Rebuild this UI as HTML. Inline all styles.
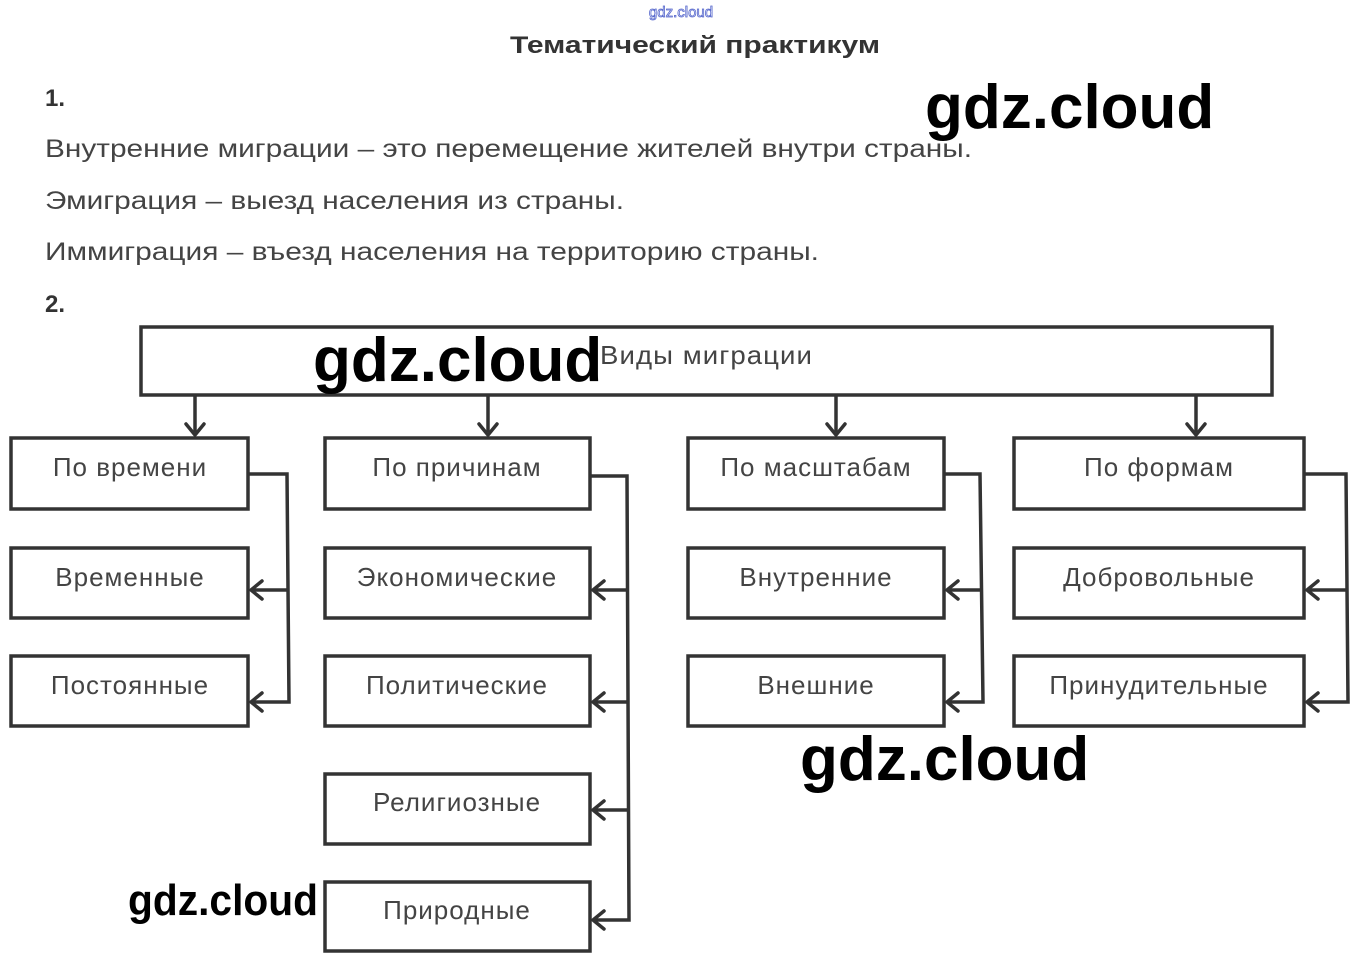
<!DOCTYPE html>
<html><head><meta charset="utf-8"><style>
html,body{margin:0;padding:0;background:#fff;width:1363px;height:971px;overflow:hidden}
svg{display:block}
.t{font-family:"Liberation Sans",sans-serif;fill:#444;font-size:25px}
.b{font-family:"Liberation Sans",sans-serif;fill:#444;font-size:26px;letter-spacing:1px}
.w{font-family:"Liberation Sans",sans-serif;fill:#000;font-weight:bold}
</style></head><body>
<svg width="1363" height="971" viewBox="0 0 1363 971">
<text x="681" y="17" text-anchor="middle" font-family="Liberation Sans,sans-serif" font-size="15" fill="#fff" stroke="#5566cc" stroke-width="0.8">gdz.cloud</text>
<text x="510" y="53" textLength="370" lengthAdjust="spacingAndGlyphs" font-family="Liberation Sans,sans-serif" font-size="24" font-weight="bold" fill="#333">Тематический практикум</text>
<text x="45" y="106" font-family="Liberation Sans,sans-serif" font-size="24" font-weight="bold" fill="#333">1.</text>
<text class="t" x="45" y="157" textLength="927" lengthAdjust="spacingAndGlyphs">Внутренние миграции – это перемещение жителей внутри страны.</text>
<text class="t" x="45" y="209" textLength="579" lengthAdjust="spacingAndGlyphs">Эмиграция – выезд населения из страны.</text>
<text class="t" x="45" y="260" textLength="774" lengthAdjust="spacingAndGlyphs">Иммиграция – въезд населения на территорию страны.</text>
<text x="45" y="312" font-family="Liberation Sans,sans-serif" font-size="24" font-weight="bold" fill="#333">2.</text>
<text class="w" x="925" y="128" font-size="62">gdz.cloud</text>

<g fill="none" stroke="#333" stroke-width="3.5">
<rect x="141" y="327" width="1131" height="68"/>
<line x1="195" y1="395" x2="195" y2="432"/><line x1="488" y1="395" x2="488" y2="432"/>
<line x1="836" y1="395" x2="836" y2="432"/><line x1="1196" y1="395" x2="1196" y2="432"/>
<rect x="11" y="438" width="237" height="71"/><rect x="11" y="548" width="237" height="70"/><rect x="11" y="656" width="237" height="70"/>
<rect x="325" y="438" width="265" height="71"/><rect x="325" y="548" width="265" height="70"/><rect x="325" y="656" width="265" height="70"/>
<rect x="325" y="774" width="265" height="70"/><rect x="325" y="882" width="265" height="69"/>
<rect x="688" y="438" width="256" height="71"/><rect x="688" y="548" width="256" height="70"/><rect x="688" y="656" width="256" height="70"/>
<rect x="1014" y="438" width="290" height="71"/><rect x="1014" y="548" width="290" height="70"/><rect x="1014" y="656" width="290" height="70"/>
<polyline points="248,474 287,474 289,702 252,702"/><line x1="287" y1="590" x2="252" y2="590"/>
<polyline points="590,476 627,476 629,920 594,920"/><line x1="627" y1="590" x2="594" y2="590"/><line x1="627" y1="702" x2="594" y2="702"/><line x1="627" y1="810" x2="594" y2="810"/>
<polyline points="944,474 980,474 983,702 948,702"/><line x1="980" y1="590" x2="948" y2="590"/>
<polyline points="1304,474 1346,474 1348,702 1308,702"/><line x1="1346" y1="590" x2="1308" y2="590"/>
<g stroke-linecap="round">
<polyline points="186,424 195,435 204,424"/><polyline points="479,424 488,435 497,424"/><polyline points="827,424 836,435 845,424"/><polyline points="1187,424 1196,435 1205,424"/>
<polyline points="262,581 251,590 262,599"/><polyline points="262,693 251,702 262,711"/>
<polyline points="604,581 593,590 604,599"/><polyline points="604,693 593,702 604,711"/><polyline points="604,801 593,810 604,819"/><polyline points="604,911 593,920 604,929"/>
<polyline points="958,581 947,590 958,599"/><polyline points="958,693 947,702 958,711"/>
<polyline points="1318,581 1307,590 1318,599"/><polyline points="1318,693 1307,702 1318,711"/>
</g></g>

<text class="b" x="600" y="364" textLength="213" lengthAdjust="spacingAndGlyphs">Виды миграции</text>
<text class="w" x="313" y="381" font-size="62">gdz.cloud</text>
<g text-anchor="middle">
<text class="b" x="130" y="476">По времени</text><text class="b" x="130" y="586">Временные</text><text class="b" x="130" y="694">Постоянные</text>
<text class="b" x="457" y="476">По причинам</text><text class="b" x="457" y="586">Экономические</text><text class="b" x="457" y="694">Политические</text>
<text class="b" x="457" y="811">Религиозные</text><text class="b" x="457" y="919">Природные</text>
<text class="b" x="816" y="476">По масштабам</text><text class="b" x="816" y="586">Внутренние</text><text class="b" x="816" y="694">Внешние</text>
<text class="b" x="1159" y="476">По формам</text><text class="b" x="1159" y="586">Добровольные</text><text class="b" x="1159" y="694">Принудительные</text>
</g>
<text class="w" x="800" y="780" font-size="62">gdz.cloud</text>
<text class="w" x="128" y="915" font-size="44" textLength="190" lengthAdjust="spacingAndGlyphs">gdz.cloud</text>
</svg>
</body></html>
